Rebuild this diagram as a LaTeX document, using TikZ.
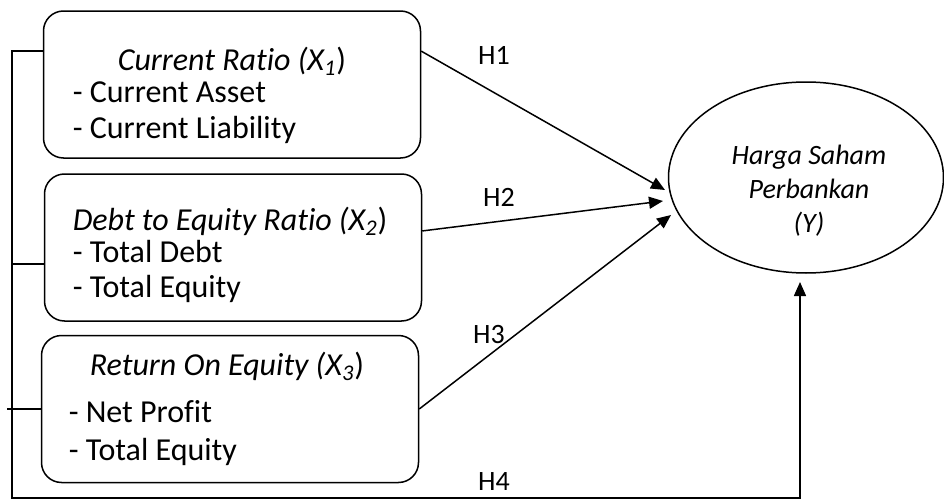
\documentclass[tikz,border=0pt]{standalone}
\usepackage{fontspec}
\setmainfont{Carlito}[Ligatures=NoCommon]
\usetikzlibrary{arrows.meta,shapes.geometric}

\tikzset{
  varbox/.style={draw,rounded corners=10pt,minimum width=188.5pt,minimum height=73.5pt,inner sep=0pt},
  ybox/.style={draw,ellipse,minimum width=137.5pt,minimum height=95.5pt,inner sep=0pt},
  titletext/.style={font=\fontsize{16}{18}\selectfont\itshape,anchor=base,inner sep=0pt},
  itemtext/.style={font=\fontsize{16}{18}\selectfont,anchor=base west,inner sep=0pt},
  hlabel/.style={font=\fontsize{14}{16}\selectfont,anchor=base,inner sep=0pt},
  link/.style={-{Triangle[length=7pt,width=6pt]}}
}

\begin{document}
\begin{tikzpicture}[x=0.5pt,y=-0.5pt,line width=0.75pt]
\useasboundingbox (0,0) rectangle (944,503);
% variable boxes
\node[varbox] (cr) at (232,84.5) {};
\node[varbox] (der) at (233,247.5) {};
\node[varbox] (roe) at (230,409) {};
\node[titletext] (crtitle) at (232,70) {Current Ratio (X\textsubscript{\textit{1}}\upshape)};
\node[itemtext] (crasset) at (72,102) {- Current Asset};
\node[itemtext] (crliab) at (72,138) {- Current Liability};
\node[titletext,anchor=base west] (dertitle) at (72,230) {Debt to Equity Ratio (X\textsubscript{\textit{2}}\upshape)};
\node[itemtext] (derdebt) at (72,262) {- Total Debt};
\node[itemtext] (dereq) at (72,297) {- Total Equity};
\node[titletext] (roetitle) at (227,375) {Return On Equity (X\textsubscript{\textit{3}}\upshape)};
\node[itemtext] (roeprofit) at (68,422) {- Net Profit};
\node[itemtext] (roeeq) at (68,460) {- Total Equity};
% dependent variable
\node[ybox] (hs) at (806,177.5) {};
\node[font=\fontsize{14}{17}\selectfont\itshape,align=center,inner sep=0pt] (hstext) at (809,191) {Harga Saham\\Perbankan\\(Y)};
% arrow tips
\coordinate (y1) at (665,190);
\coordinate (y2) at (663,201);
\coordinate (y3) at (671,215);
\coordinate (y4) at (800,282);
\coordinate (bus) at (12,498);
\draw[link] (cr.10) -- (y1);
\draw[link] (der.5) -- (y2);
\draw[link] (roe.east) -- (y3);
\draw[link] (cr.170) -| (bus) -| (y4);
\draw (der.185) -- (der.185 -| bus);
\draw (roe.west) -- ++(-34,0);
% labels
\node[hlabel] (h1) at (494,64) {H1};
\node[hlabel] (h2) at (499,206) {H2};
\node[hlabel] (h3) at (489,343) {H3};
\node[hlabel] (h4) at (494,490) {H4};
\end{tikzpicture}
\end{document}
